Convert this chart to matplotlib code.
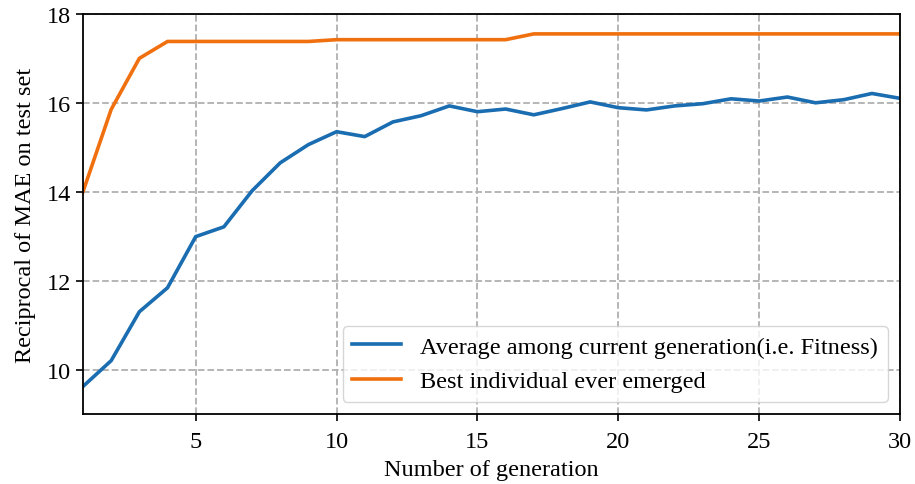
import matplotlib
matplotlib.use('Agg')
import matplotlib.pyplot as plt
import numpy as np

plt.rcParams['font.family'] = ['Liberation Serif', 'DejaVu Serif']
plt.rcParams['font.size'] = 17.5

generations = np.arange(1, 31)
average_fitness = [9.62, 10.2, 11.3, 11.84, 12.99, 13.21, 14.02, 14.65, 15.06, 15.35,
                   15.24, 15.57, 15.71, 15.93, 15.80, 15.86, 15.73, 15.87, 16.02, 15.89,
                   15.84, 15.93, 15.98, 16.09, 16.04, 16.13, 16.0, 16.07, 16.21, 16.1]
best_individual = [14.0, 15.85, 17.0, 17.38, 17.38, 17.38, 17.38, 17.38, 17.38, 17.42,
                   17.42, 17.42, 17.42, 17.42, 17.42, 17.42, 17.55, 17.55, 17.55, 17.55,
                   17.55, 17.55, 17.55, 17.55, 17.55, 17.55, 17.55, 17.55, 17.55, 17.55]

fig = plt.figure(figsize=(9.15, 4.85), dpi=100)
ax = fig.add_axes([0.0907, 0.1443, 0.893, 0.825])

ax.plot(generations, average_fitness, color='#1a6db0', lw=2.6,
        label='Average among current generation(i.e. Fitness)')
ax.plot(generations, best_individual, color='#f07010', lw=2.6,
        label='Best individual ever emerged')

ax.set_xlim(1, 30)
ax.set_ylim(9, 18)
ax.set_xticks([5, 10, 15, 20, 25, 30])
ax.set_yticks([10, 12, 14, 16, 18])
ax.grid(True, linestyle='--', color='#b0b0b0', lw=1.3)
for s in ax.spines.values():
    s.set_linewidth(1.3)
ax.tick_params(width=1.2, length=5)
ax.tick_params(axis='x', pad=7)
ax.set_xlabel('Number of generation', labelpad=5)
ax.set_ylabel('Reciprocal of MAE on test set', labelpad=8)
ax.legend(loc='lower right', fontsize=17.5, borderaxespad=0.5)

fig.savefig('out.png', dpi=100)
